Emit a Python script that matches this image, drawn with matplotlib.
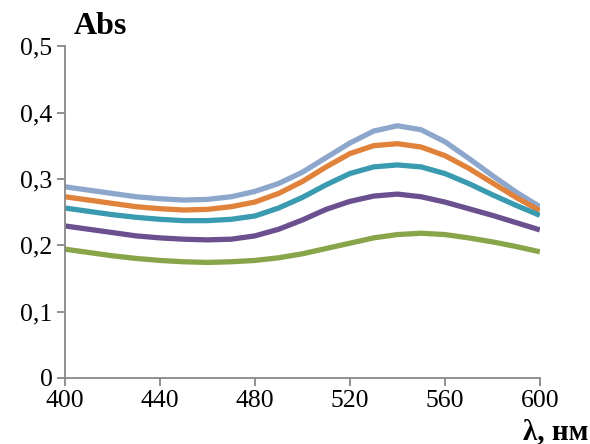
import matplotlib.pyplot as plt

plt.rcParams['font.family'] = ['Liberation Serif', 'DejaVu Serif']

wl = [400, 410, 420, 430, 440, 450, 460, 470, 480, 490, 500,
      510, 520, 530, 540, 550, 560, 570, 580, 590, 600]
s1 = [.288, .283, .278, .273, .270, .268, .269, .273, .281, .293, .310,
      .332, .354, .372, .380, .374, .356, .331, .305, .280, .258]
s2 = [.273, .268, .263, .258, .255, .253, .254, .258, .265, .278, .296,
      .318, .338, .350, .353, .348, .335, .316, .294, .272, .252]
s3 = [.256, .251, .246, .242, .239, .237, .237, .239, .244, .256, .272,
      .291, .308, .318, .321, .318, .308, .293, .276, .260, .245]
s4 = [.229, .224, .219, .214, .211, .209, .208, .209, .214, .224, .238,
      .254, .266, .274, .277, .273, .265, .255, .245, .234, .223]
s5 = [.194, .189, .184, .180, .177, .175, .174, .175, .177, .181, .187,
      .195, .203, .211, .216, .218, .216, .211, .205, .198, .190]
colors = ['#8DA6CC', '#E0823A', '#3A9AB0', '#6B5090', '#88A54A']

fig = plt.figure(figsize=(5.9, 4.44), dpi=100)
ax = fig.add_axes([0.110, 0.149, 0.805, 0.747])

for s, c in zip([s1, s2, s3, s4, s5], colors):
    ax.plot(wl, s, color=c, lw=3.8, solid_capstyle='butt')

ax.set_xlim(400, 600)
ax.set_ylim(0, 0.5)
ax.set_xticks([400, 440, 480, 520, 560, 600])
ax.set_yticks([0, 0.1, 0.2, 0.3, 0.4, 0.5])
ax.set_yticklabels(['0', '0,1', '0,2', '0,3', '0,4', '0,5'])
for sp in ['top', 'right']:
    ax.spines[sp].set_visible(False)
for sp in ['left', 'bottom']:
    ax.spines[sp].set_color('#888888')
    ax.spines[sp].set_linewidth(1.3)
ax.tick_params(color='#888888', width=1.3, length=6, labelsize=18.5, pad=3)

fig.text(0.125, 0.94, 'Abs', fontsize=23, fontweight='bold', ha='left', va='center')
fig.text(0.998, 0.027, 'λ, нм', fontsize=21, fontweight='bold', ha='right', va='center')

fig.savefig('out.png', dpi=100)
